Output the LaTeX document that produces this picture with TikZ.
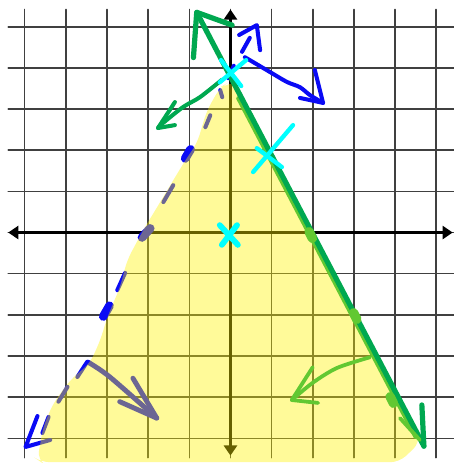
\documentclass[tikz,border=0pt]{standalone}
\usepackage{xcolor}
\usepackage{tikz}
\usetikzlibrary{arrows.meta}
\definecolor{inkblue}{HTML}{0A0AF5}
\definecolor{inkgreen}{HTML}{00A850}
\definecolor{inklime}{HTML}{62C832}
\definecolor{inkcyan}{HTML}{00FFFF}
\definecolor{gridgray}{HTML}{404040}
\tikzset{
every picture/.style={line cap=round,line join=round},
grid line/.style={draw=gridgray, line width=1.1pt},
axis line/.style={draw=black, line width=2pt, {Triangle[length=7pt,width=9pt]}-{Triangle[length=7pt,width=9pt]}},
blue pen/.style={draw=inkblue, line width=2.8pt},
blue blob/.style={draw=inkblue, line width=6pt},
shade region/.style={fill=yellow, fill opacity=0.4, rounded corners=6pt},
green pen/.style={draw=inkgreen, line width=3.6pt},
green thin/.style={draw=inkgreen, line width=2.8pt},
lime pen/.style={draw=inklime, line width=2.6pt},
lime blob/.style={draw=inklime, line width=6.5pt},
cyan pen/.style={draw=inkcyan, line width=3pt}
}

\begin{document}
\begin{tikzpicture}
\useasboundingbox (-5.60,-5.60) rectangle (5.41,5.65);
\draw[grid line] (-5.4,-5.47) grid (5.45,5.42);
\draw[axis line] (-5.4,0) -- (5.4,0);
\draw[axis line] (0,5.42) -- (0,-5.42);
\foreach \xa/\ya/\xb/\yb in {-0.05/3.75/0.08/4.05, 0.28/4.39/0.47/4.73,
  -0.25/3.46/-0.20/3.29, -0.49/2.85/-0.61/2.56, -1.63/0.74/-1.39/1.15,
  -2.75/-1.40/-2.56/-0.98, -3.72/-3.51/-3.48/-3.14, -4.18/-4.11/-3.96/-3.75,
  -4.57/-4.87/-4.42/-4.48}
  \draw[blue pen] (\xa,\ya) -- (\xb,\yb);
\foreach \xa/\ya/\xb/\yb in {-1.10/1.80/-0.97/2.02, -2.15/-0.12/-1.95/0.10, -3.09/-2.04/-2.94/-1.78}
  \draw[blue blob] (\xa,\ya) -- (\xb,\yb);
\draw[blue pen] (-4.69,-4.46) -- (-4.98,-5.21) -- (-4.38,-5.04);
\draw[blue pen] (0.21,4.80) -- (0.64,5.04) -- (0.72,4.43);
\draw[blue pen] plot[smooth] coordinates {(0.35,4.26) (0.96,3.90) (1.37,3.66) (1.69,3.53) (1.93,3.34) (2.25,3.15)};
\draw[blue pen] (2.05,3.95) -- (2.25,3.15) -- (1.69,3.27);
\draw[blue pen, line width=3.4pt] plot[smooth] coordinates {(-3.46,-3.15) (-2.93,-3.51) (-1.79,-4.51)};
\draw[blue pen, line width=3.4pt] (-2.37,-3.54) -- (-1.79,-4.51) -- (-2.69,-4.11);
\fill[shade region] (0.15,3.62) -- (-0.13,3.60) -- (-0.25,3.53) -- (-0.57,2.97) -- (-0.74,2.41)
  -- (-0.81,2.17) -- (-1.05,1.83) -- (-1.39,1.27) -- (-1.78,0.62) -- (-2.12,0.06)
  -- (-2.51,-0.67) -- (-2.68,-1.32) -- (-2.99,-2.05) -- (-3.16,-2.61) -- (-3.41,-3.17)
  -- (-3.89,-3.58) -- (-4.30,-4.14) -- (-4.55,-4.72) -- (-4.69,-5.52) -- (-4.6,-5.58)
  -- (4.1,-5.58) -- (4.60,-5.11) -- (4.55,-4.85) -- cycle;
\draw[lime pen] (0.18,3.27) -- (4.50,-4.98);
\draw[green pen] (-0.82,5.35) -- (4.70,-5.19);
\draw[green pen] (-0.90,4.25) -- (-0.82,5.35) -- (0.04,5.04);
\draw[green pen] (4.65,-4.19) -- (4.70,-5.19);
\draw[lime pen] (4.12,-4.51) -- (4.60,-5.04);
\foreach \cx/\cy in {1.95/-0.06, 3.03/-2.03, 3.92/-4.07}
  \draw[lime blob] (\cx-0.04,\cy+0.08) -- (\cx+0.04,\cy-0.08);
\draw[lime pen] plot[smooth] coordinates {(3.39,-3.03) (2.59,-3.29) (2.00,-3.65) (1.49,-4.07)};
\draw[lime pen] (2.00,-3.27) -- (1.49,-4.07) -- (2.13,-4.14);
\draw[green thin] plot[smooth] coordinates {(-0.21,3.71) (-0.74,3.29) (-1.15,3.05) (-1.64,2.66) (-1.76,2.54)};
\draw[green thin] (-1.35,3.17) -- (-1.76,2.54) -- (-1.35,2.61);
\draw[cyan pen, line width=4pt] (-0.26,0.18) -- (0.18,-0.30) (0.16,0.18) -- (-0.21,-0.30);
\draw[cyan pen] (-0.23,4.19) -- (0.26,3.56) (0.38,4.19) -- (-0.26,3.65);
\draw[cyan pen] (0.55,1.47) -- (1.52,2.61) (0.64,2.05) -- (1.25,1.59);
\end{tikzpicture}
\end{document}
